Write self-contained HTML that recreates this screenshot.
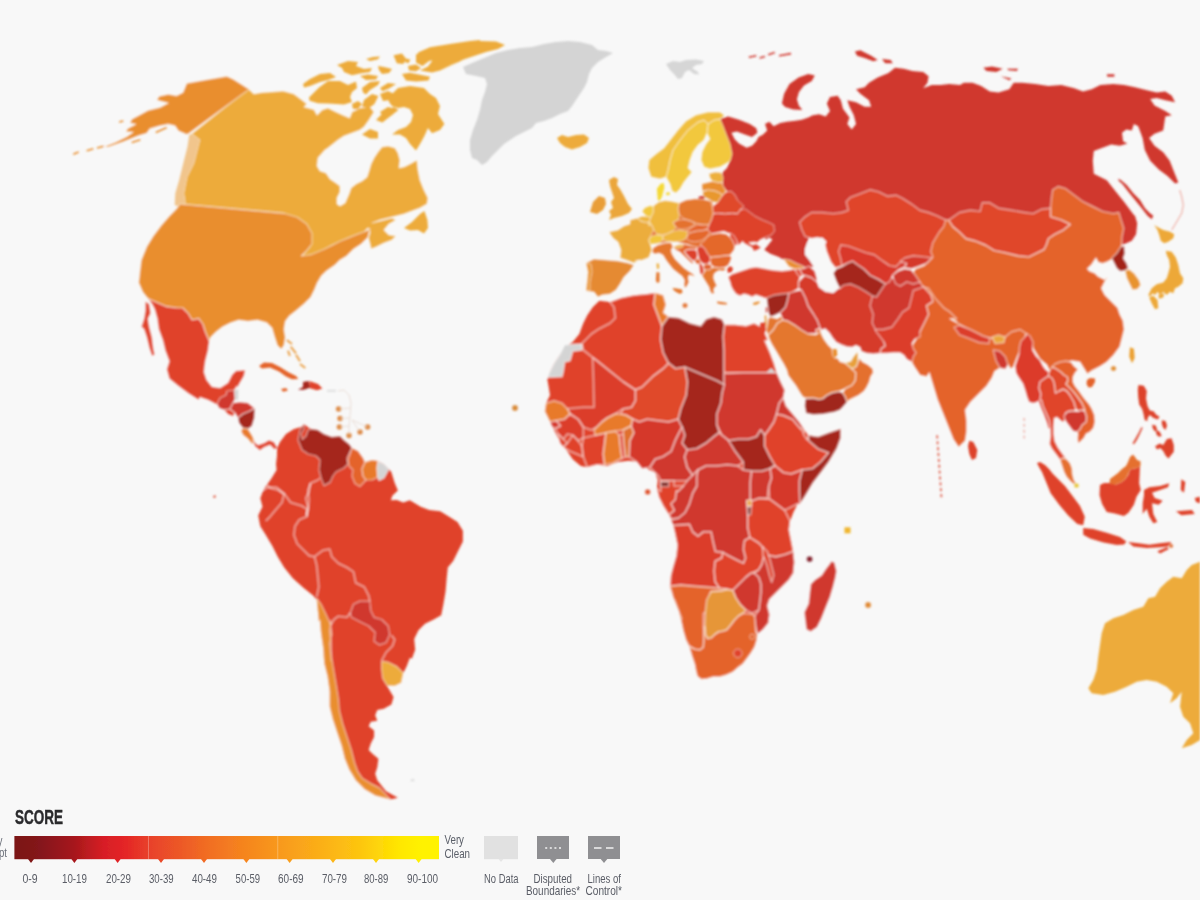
<!DOCTYPE html>
<html lang="en">
<head>
<meta charset="utf-8">
<title>Corruption Perceptions Index – World Map</title>
<style>
html,body{margin:0;padding:0;background:#f8f8f8;}
body{width:1200px;height:900px;overflow:hidden;position:relative;font-family:"Liberation Sans",sans-serif;}
#map{position:absolute;left:0;top:0;width:1200px;height:900px;display:block;}
</style>
</head>
<body>
<svg id="map" width="1200" height="900" viewBox="0 0 1200 900">
<rect x="0" y="0" width="1200" height="900" fill="#f8f8f8"/>
<defs><filter id="soft" x="-2%" y="-2%" width="104%" height="104%"><feGaussianBlur stdDeviation="0.8"/></filter><filter id="soft2" x="-2%" y="-10%" width="104%" height="120%"><feGaussianBlur stdDeviation="0.45"/></filter></defs>
<g stroke-linejoin="round" filter="url(#soft)">
<polygon fill="#edab3b" stroke="#fff" stroke-opacity="0.5" stroke-width="1.20" points="246,86.4 254,94 262,92.4 272,92 283,91 294,94 302,100 307,104 304,107 314,109.6 317,115 322,110 328,108 336,112 344,115.6 349.6,118 352,112 360,108 370,107 374,112 369,120 364,127 360,130 352,133 344,136 338,140 328,148 325,150 318,158 317,166 320,171 326,173 330,179 336,183 340,186 340,192 337,198 337,204 340,206 345,203 349,194 351,188 356,184 362,181 367,177 369,171 371,164 374,158 378,152 382,147 388,146 395,148 398,153 400,160 399,168 404,167 410,164 417,160 418,170 420,180 424,190 428,198 427,204 420,208 412,211 404,214 392,217 380,220 372,223 376,222 384,220 392,218 396,220 389,224 384,230 389,235 396,236 392,240 384,243 376,247 371,249 370,244 368.4,238 370,232 368,228 364,232.4 356,235.4 348,238.4 340,242.4 332,245.6 324,250.4 316,254.4 308,257.4 300,258 305,252 310,246 311,238 308,230 304,224 298,220 290,218 280,217 284,213.3 180,204 185.3,203 183.7,193.3 187,176.7 193.7,163.3 199.7,140 191.7,133.7 248.3,88.3"/>
<polygon fill="#e98e2f" stroke="#fff" stroke-opacity="0.5" stroke-width="1.20" points="249.2,89.2 233.3,79.2 226.7,76.3 206.7,79.7 186.7,83.3 183,92.5 176.7,95.8 168.3,94.2 159.2,96.3 156.7,100 168.3,103 160,107.5 148.3,110.3 138.3,115.8 131.7,119.2 130,123 135.8,124.2 127.5,128.7 125.8,131.7 133.3,132 126.7,136.7 115,142.5 104.2,146.7 108.3,147 123.3,141.7 138.3,135.8 146.7,133.3 150,128.7 160,125.8 168.3,124.2 175,125.8 178.3,130.8 186.7,134.5 189.2,133.3"/>
<polyline fill="none" stroke="#e98e2f" stroke-width="1.6" points="73.3,154.2 78.7,152"/>
<polyline fill="none" stroke="#e98e2f" stroke-width="1.6" points="86.7,150.8 93.3,148.7"/>
<polyline fill="none" stroke="#e98e2f" stroke-width="1.6" points="97,148 103.7,146.2"/>
<polyline fill="none" stroke="#e98e2f" stroke-width="1.6" points="131.7,142.5 140.3,139.7"/>
<polyline fill="none" stroke="#e98e2f" stroke-width="1.6" points="155.8,132.5 166.7,127.5"/>
<polyline fill="none" stroke="#e98e2f" stroke-width="1.6" points="119.2,122 123.3,121"/>
<polygon fill="#f1c58c" points="189.2,135 191.7,133.7 199.7,140 193.7,163.3 187,176.7 183.7,193.3 185.3,203 177.5,206.3 174.7,205 175.3,193.3 179.2,180 183.3,163.3 187.5,146.7"/>
<polygon fill="#e98e2f" stroke="#fff" stroke-opacity="0.5" stroke-width="1.20" points="180,204 284,213.3 297.3,217.3 306.7,224 312,233.3 312,244 306.7,250.7 301.3,256 310.7,254.7 324,249.3 340,241.3 356,234.7 366.7,230.7 369.9,228.5 368,237.3 361.3,244 353.3,249.3 346.7,256 340,260 334.7,265.3 326.7,270.7 321.3,276 317.3,282.7 314.7,289.3 310.7,297.3 304,304 296,310.7 289.3,316 285.3,321.3 284,329.3 285.3,337.3 284,345.3 281.3,349.3 277.3,345.3 274.7,337.3 272,328 266.7,322.7 257.3,320 248,321.3 238.7,320 230.7,322.7 222.7,326.7 216,332 210.7,337.3 209.3,341.3 205.3,332 202.7,324 198.7,318.7 192,320 188,313.3 182.7,308 177.3,308 166.7,306.7 157.3,302.7 148,298.7 142.7,292 138.7,282.7 140,270.7 141.3,260 146.7,246.7 153.3,236 161.3,225.3 169.3,216 176,209.3"/>
<polygon fill="#e0432b" stroke="#fff" stroke-opacity="0.5" stroke-width="1.20" points="148,298.7 157.3,302.7 166.7,306.7 177.3,308 182.7,308 188,313.3 192,320 198.7,318.7 202.7,324 205.3,332 209.3,341.3 208,350.7 205.3,361.3 204,372 206.7,380 212,386.7 220,388 228,382.7 232,374.7 236,370.7 245.3,369.9 244,376 240,382.7 237.3,388 237,386 234.4,390 232,400 224,406.4 217,404.8 208,400 200,397.2 198.7,400 188,393.3 177.3,385.3 169.3,378.7 166.7,369.3 169.3,361.3 165.3,350.7 162.7,340 158.7,329.3 157.3,318.7 154.7,309.3 152,304"/>
<polygon fill="#e0432b" stroke="#fff" stroke-opacity="0.5" stroke-width="1.20" points="145.3,301.3 149.3,304 150.7,313.3 148,318.7 149.3,326.7 152,337.3 153.3,348 154.7,354.7 152,356 149.3,348 146.7,337.3 144,329.3 141.3,326.7 144,318.7 145.3,310.7"/>
<polygon fill="#edab3b" points="303,84 310,79 320,74 330,73 336,77 328,80 320,82 310,86 304,87.4"/>
<polygon fill="#edab3b" points="309,97.6 319,87.6 328,81 340,81 348,85 356,81.6 357,88 352,92 350,97 352,102 344,104.4 328,103.6 318,103.2 309.6,100.8"/>
<polygon fill="#edab3b" points="337,65 348,61 358,62 356,66 364,69 372,68 370,72 360,73.4 352,75.2 344,72 342,68"/>
<polygon fill="#edab3b" points="366,59 373,57 380,56.4 378,59.2 370,61"/>
<polygon fill="#edab3b" points="362,88 370,82 380,81 378,85 370,90 366,94.4 363,92.4"/>
<polygon fill="#edab3b" points="380,88 388,83 396,84 389,88.4 382.4,91.2"/>
<polygon fill="#edab3b" points="364,100 372,94 378.4,96 374.4,104 368.4,108.4 362,106.4"/>
<polygon fill="#edab3b" points="378,66 384,67 392,69 389,73 382,74 379,70"/>
<polygon fill="#edab3b" points="402,74 410,72.8 420,74.8 430,76.8 428.4,80.4 416,81.4 406,80.4"/>
<polygon fill="#edab3b" points="394,56 400,54.8 402.4,60 398,62.4"/>
<polygon fill="#edab3b" points="405.6,58.6 410.4,59.6 408.4,63.2 405.2,62"/>
<polygon fill="#edab3b" points="418,52.4 430,47.2 450,44 470,41 480,40 480,41 496,41.6 505,45 498,49 486,52 474,56 462,60 450,66 440,71 466,58.4 452,64.4 440,70.4 432,72.4 420,70.4 428,66.4 432.4,60.4 420,61.2"/>
<polygon fill="#edab3b" points="388,98 398,88 410,86 424,88 430,94 436,98 440,106 438,114 444.4,124 440,130 432,133.2 428,128 424.4,136 420,144 416,150.4 410,144 406,138 400,134.4 392,134.4 398,130 406,127 411,122 413,115 410,109 404,107 398,108 392,106 389,102"/>
<polygon fill="#edab3b" points="376,120 384,112 394,107 398.4,110 390,116.4 382.4,122.4"/>
<polygon fill="#edab3b" points="362,134.4 370,129 378,132 378,138.4 370,138.4"/>
<polygon fill="#edab3b" points="380,112 388,107 396,109 392,115 384,118"/>
<polygon fill="#edab3b" points="404,228 412,222 420,214 424.4,211 427.4,220 428,228 424,233.4 418,230 410,230.4"/>
<polygon fill="#d4d4d4" points="463,67 472,63 484,58 496,53 508,50 520,48 532,47 544,44 556,42 568,41 580,42 592,45 598,50 606,51 613,53 606,57 598,62 592,68 589,74 587,82 584,88 580,94 576,100 572,106 568,111 560,114 552,118 544,121 536,123 532,128 524,132 516,136 510,140 504,144 498,150 492,156 487,162 482,165 477,160 472,158 470,150 470,140 473,130 477,120 480,110 482,100 485,92 487,84 485,78 476,76 466,74"/>
<polygon fill="#edab3b" points="557,138 562,135 568,137 576,135 584,134.4 589,138 587,143 580,147 572,149.6 565,147 560,143"/>
<polygon fill="#edab3b" points="360,76 368,74.4 378,76 376,79.6 366,80"/>
<polygon fill="#edab3b" points="380,94 388,91 394,94 390,100 383,101"/>
<polygon fill="#edab3b" points="352,104 358,101 362,104 358,109 353,109"/>
<polygon fill="#edab3b" points="416,54.4 424,50.4 432.4,52.4 430.4,60 422.4,66 416,62.4"/>
<polygon fill="#edab3b" points="393.6,55.2 402,53.6 406.4,59.2 403.2,64 396.8,63.2"/>
<polygon fill="#edab3b" points="408,66 416,64.4 421,68 416,71.2 409,70.4"/>
<polygon fill="#d4d4d4" points="234.4,390 238.4,389.6 238,400 235,399.4"/>
<polygon fill="#d0372d" stroke="#fff" stroke-opacity="0.5" stroke-width="1.20" points="217,404 220,398 226,395 227,391 234.4,390 235,399 233,403 230,409 224,410 219,408"/>
<polygon fill="#e0432b" stroke="#fff" stroke-opacity="0.5" stroke-width="1.20" points="224,410 230,409 235,413 233,416.4 228,414.6"/>
<polygon fill="#d0372d" stroke="#fff" stroke-opacity="0.5" stroke-width="1.20" points="233,403 240,402 248,403 254.4,408 250,411 243,414 238,418 235,413 230,409"/>
<polygon fill="#a5281e" stroke="#fff" stroke-opacity="0.5" stroke-width="1.20" points="238,418 243,414 250,411 255,408 254.4,418 252,426 248,429 243,428 239,423"/>
<polygon fill="#e87a2c" stroke="#fff" stroke-opacity="0.5" stroke-width="1.20" points="243,428 248,429 252.4,436 255,442 252,444 248,439 243,435 241,431"/>
<polygon fill="#e0432b" stroke="#fff" stroke-opacity="0.5" stroke-width="1.20" points="252.4,440 258,445 264,443 269,440 274,442 277.6,448 274.4,449.4 270,445 264,447.4 260,450.4 255,446.4"/>
<polygon fill="#e4642b" points="259,366 264,362.4 272,363 280,367 288,372 296,376 298.4,379 292,379.2 286,376.4 279,371.4 270,367.4 262,368.4"/>
<polygon fill="#a5281e" points="303,382 308.4,381 310.4,387.4 304,389.8 298,389.8 303,387"/>
<polygon fill="#e0432b" points="309.2,381 318,384 322.4,388.4 317,390.2 310,388.2"/>
<polygon fill="#e4642b" points="281,389 286,388 288,390.4 283,391.8"/>
<polygon fill="#d4d4d4" fill-opacity="0.7" points="327,389.8 336,389.8 336,391.8 327,391.8"/>
<circle cx="338.6" cy="409" r="3" fill="#dc8433" stroke="#fff" stroke-opacity="0.6" stroke-width="0.8"/>
<circle cx="340" cy="418.4" r="3" fill="#dc8433" stroke="#fff" stroke-opacity="0.6" stroke-width="0.8"/>
<circle cx="339.4" cy="427" r="3" fill="#dc8433" stroke="#fff" stroke-opacity="0.6" stroke-width="0.8"/>
<circle cx="349" cy="435.6" r="3" fill="#dc8433" stroke="#fff" stroke-opacity="0.6" stroke-width="0.8"/>
<circle cx="360" cy="432" r="3" fill="#dc8433" stroke="#fff" stroke-opacity="0.6" stroke-width="0.8"/>
<circle cx="367.6" cy="427" r="3" fill="#dc8433" stroke="#fff" stroke-opacity="0.6" stroke-width="0.8"/>
<polyline fill="none" stroke="#e6d6cc" stroke-width="0.8" points="338,391 344,390 349,395 351,403 350.4,412 349.6,420 349,428 349,435.6"/>
<polyline fill="none" stroke="#e6d6cc" stroke-width="0.8" points="338.6,409 350.4,408"/>
<polyline fill="none" stroke="#e6d6cc" stroke-width="0.8" points="340,418.4 350,418"/>
<polyline fill="none" stroke="#e6d6cc" stroke-width="0.8" points="339.4,427 349,426"/>
<polyline fill="none" stroke="#e6d6cc" stroke-width="0.8" points="352,420 360,432"/>
<polyline fill="none" stroke="#e6d6cc" stroke-width="0.8" points="352,420 367.6,427"/>
<polyline fill="none" stroke="#eba24a" stroke-width="2.0" points="286.7,340 292,344"/>
<polyline fill="none" stroke="#eba24a" stroke-width="2.0" points="290.7,346.7 296,353.3"/>
<polyline fill="none" stroke="#eba24a" stroke-width="2.0" points="296,354.7 300,361.3"/>
<polyline fill="none" stroke="#eba24a" stroke-width="2.0" points="300,364 305.3,368"/>
<polyline fill="none" stroke="#eba24a" stroke-width="2.0" points="288,350.7 289.9,356"/>
<polygon fill="#e0432b" points="277,448 280,442 286,434 294,429 301,427 304,424 309,428 312,429 318,430 324,434 332,437 340,436 344,440 349,444 352,448 358,451 363,458 365,462 372,460 378,461 384,464 389,469 391.4,472.2 394.7,483 397.9,490.6 392.5,495.6 390.8,500.3 396.8,499.9 403.3,502.5 409.8,500.3 420.7,506.8 429.3,510.1 440.2,511.2 448.8,516.6 457.5,522 462.9,530.7 462.9,541.5 457.5,552.3 453.2,561 447.8,567.5 446.7,578.3 445.6,591.3 443.4,604.3 441.2,615.2 433.7,619.5 425,623.8 418.5,630.3 414.2,639 415.2,649.8 412,658.5 409.8,657.9 406.6,666.6 403.3,673.1 401.2,682.8 394.7,686.1 387.1,686.1 390.3,691.5 393.6,696.9 391.4,704.5 383.8,708.8 377.3,709.9 375.2,715.3 377.3,720.8 370.8,721.8 368.7,726.2 374.1,730.5 374.1,737 370.8,743.5 368.7,750 373,754.3 378.4,758.7 377.3,767.3 375.2,773.8 377.3,780.3 386,791.2 397.9,797.7 390.3,799.4 375.2,795.5 364.3,789 355.7,780.3 349.2,769.5 344.8,758.7 341.6,745.7 337.2,732.7 332.9,719.7 329.7,706.7 329.7,691.5 327.5,676.3 324.2,663.3 323.2,648.2 321,633 319.9,620 318.8,621.7 317.8,610.8 316.7,600 313.4,595.7 303.7,588.1 292.8,578.3 284.2,567.5 277.7,556.7 272.2,545.8 265.8,535 260.3,526.3 258.2,515.5 262.5,506.8 260.3,498.2 263.6,489.5 271.2,478.7 276.6,470 276,464 277,456"/>
<polygon fill="#a5281e" stroke="#fff" stroke-opacity="0.5" stroke-width="1.20" points="304,424 300,430 298,440 302,450 308,454 316,456 320,460 319,470 321,478 324,485.6 330,482.4 333,476 336,472 344,468 348,464 347,458 352,448 349,444 344,440 340,436 332,437 324,434 318,430 312,429 308,430 306,436 302.4,439.4 301,434 304,429"/>
<polygon fill="#e4642b" stroke="#fff" stroke-opacity="0.5" stroke-width="1.20" points="352,448 358,451 363,458 365,462.4 362,469 363,476 366,480 360,486.4 355,483.4 352,476 353,470 349,466 348,460"/>
<polygon fill="#e87a2c" stroke="#fff" stroke-opacity="0.5" stroke-width="1.20" points="365,462.4 372,460 378,461 377,468 378,477 372,480 366,480 363,476 362,469"/>
<polygon fill="#d4d4d4" stroke="#fff" stroke-opacity="0.5" stroke-width="1.20" points="378,461.4 384,464 389,469 384,478 379,480.4 377.6,477 377,468"/>
<polygon fill="#d0372d" stroke="#fff" stroke-opacity="0.5" stroke-width="1.20" points="353.5,604.3 360,601.1 369.8,601.1 370.8,610.8 374.1,617.3 381.7,619.5 388.2,626 389.7,634.7 386,642.7 379.5,644.9 374.1,641.2 375.2,632.5 368.7,626 360,621.7 351.3,617.3 350.2,613"/>
<polygon fill="#e98e2f" stroke="#fff" stroke-opacity="0.5" stroke-width="1.20" points="316.7,598.3 321,604.3 325.3,613 330.8,624.9 331.8,634.7 329.7,643.3 330.8,654.2 331.4,660.7 330.8,620 329.7,630.8 330.8,643.8 331.8,659 334,672 336.2,685 338.3,698 339.4,711 342.7,724 347,737 351.3,750 354.6,763 357.8,771.7 362.2,778.2 370.8,783.6 379.5,787.9 390.3,799.4 375.2,795.5 364.3,789 355.7,780.3 349.2,769.5 344.8,758.7 341.6,745.7 337.2,732.7 332.9,719.7 329.7,706.7 329.7,691.5 327.5,676.3 324.2,663.3 323.2,648.2 321,633 319.9,620 318.8,621.7 317.8,610.8 316.7,600"/>
<polygon fill="#edab3b" stroke="#fff" stroke-opacity="0.5" stroke-width="1.20" points="381.7,661.2 388.2,662.2 396.8,666.6 403.3,673.1 401.2,682.8 394.7,686.1 387.1,685.4 382.8,678.5 381.7,669.8"/>
<polyline fill="none" stroke="#fff" stroke-opacity="0.5" stroke-width="1.60" points="310.2,483 309.1,491.7 305.8,498.2 308,506.8 306.9,516.6"/>
<polyline fill="none" stroke="#fff" stroke-opacity="0.5" stroke-width="1.60" points="306.9,516.6 299.3,519.8 295,526.3 293.9,535 297.2,543.7 303.7,550.2 309.1,555.6 314.5,556.7"/>
<polyline fill="none" stroke="#fff" stroke-opacity="0.5" stroke-width="1.60" points="314.5,556.7 323.2,550.2 329.7,549.1 331.8,556.7 338.3,563.2 347,567.5 353.5,571.8 355.7,582.7 364.3,587 368.7,595.7 369.8,601.1"/>
<polyline fill="none" stroke="#fff" stroke-opacity="0.5" stroke-width="1.60" points="314.5,556.7 316.7,565.3 317.8,576.2 318.8,587 316.7,596.8"/>
<polyline fill="none" stroke="#fff" stroke-opacity="0.5" stroke-width="1.60" points="262.5,490.6 267.9,487.3 276.6,487.3 284.2,493.8 282,502.5 275.5,510.1 270.1,516.6 265.8,520.9"/>
<polyline fill="none" stroke="#fff" stroke-opacity="0.5" stroke-width="1.60" points="284.2,493.8 290.7,502.5 301.5,505.8 306.9,509 306.9,516.6"/>
<polyline fill="none" stroke="#fff" stroke-opacity="0.5" stroke-width="1.60" points="330.8,624.9 334,619.5 338.3,616.2 347,617.3 350.2,613"/>
<polyline fill="none" stroke="#fff" stroke-opacity="0.5" stroke-width="1.60" points="391.4,635.2 394.7,639.5 392.5,646 386,652.5 381.7,660.7"/>
<polyline fill="none" stroke="#fff" stroke-opacity="0.5" stroke-width="1.60" points="320,478 318,480 311,483 308,490 309,500 308,510 306,515"/>
<polyline fill="none" stroke="#fff" stroke-opacity="0.5" stroke-width="1.60" points="267,485 270,488 278,490 284,494"/>
<polygon fill="#e0432b" points="599.3,300.7 610,302 620.7,298 634,295.3 647.3,294 655.3,292.7 663.3,295.3 666,304.7 663.3,312.7 668.7,316.7 679.3,318 690,323.3 700.7,326 706,319.3 714,316.7 722,319.3 724.7,324.7 735.3,324.7 746,326 754,323.3 762,327.3 764.7,332.7 767.9,339.9 764.7,340.7 770,352.7 774,363.3 776.7,372.7 780.7,382 784.7,390 783.3,398 786,406 792.7,414 799.3,422 804.7,430 808.7,435.3 818,436.7 828.7,432.7 840.7,428.7 840.7,438 836.7,448.7 828.7,462 820.7,472.7 812.7,483.3 804.7,496.7 799.3,504.7 797.7,503.8 793.3,512.5 790.1,521.2 789,529.8 791.2,540.7 793.3,551.5 794.4,562.3 793.3,573.2 789,579.7 782.5,586.2 776,592.7 769.5,599.2 767.3,605.7 769.5,614.3 768.4,623 763,629.5 757.6,633.8 758.7,630.7 756,632 757.3,634.7 756.7,640 754.7,646.7 750.7,653.3 746.7,658.7 742.7,664 737.3,668 732.7,672 726.7,674.7 720,676.7 713.3,676.7 706.7,678.7 701.3,679.3 697.3,676 696,670.7 694.7,664 692,656 689.3,646.7 686,640 683.3,630.7 681.3,621.3 678.7,610.7 674.7,600 681.8,618.7 677.4,607.8 673.1,597 669.8,586.2 670.9,575.3 673.1,566.7 676.3,555.8 677.4,545 675.2,534.2 673.1,523.3 668.8,514.7 663.3,506 659,497.3 656.8,488.7 657.9,480 663.3,502 660.7,491.3 658,480.7 655.3,472.7 647.3,468.7 639.3,462 628.7,460.7 618,462 607.3,466 596.7,464.7 587.3,467.3 580.7,466 572.7,459.3 567.3,451.3 560.7,443.3 556.7,435.3 552.7,427.3 548.7,419.3 544.7,411.3 546,403.3 550,395.3 548.7,387.3 547.3,379.3 550,371.3 554,363.3 559.3,355.3 564.7,347.3 572.7,342 579.3,334 583.3,323.3 587.3,315.3 592.7,307.3"/>
<polygon fill="#d4d4d4" stroke="#fff" stroke-opacity="0.5" stroke-width="1.60" points="564.7,344.7 582,344.1 582,350 572.7,351.3 570,360.7 564.7,362 563.3,371.3 562,376.7 547.3,377.2 550,371.3 554,363.3 559.3,355.3"/>
<polygon fill="#e0432b" stroke="#fff" stroke-opacity="0.5" stroke-width="1.60" points="610,302 620.7,298 634,295.3 647.3,294 655.3,292.7 654,304.7 658,315.3 662,326 660.7,339.3 663.3,352.7 668.7,363.3 663.3,368.7 652.7,376.7 642,387.3 635.3,390 623.3,382 610,371.3 596.7,360.7 583.3,350 582,343.3 584.7,340.7 591.3,334 599.3,328.7 610,323.3 615.3,318 614,307.3"/>
<polygon fill="#e87a2c" stroke="#fff" stroke-opacity="0.5" stroke-width="1.60" points="655.3,292.7 663.3,295.3 666,304.7 663.3,312.7 668.7,316.7 664.7,322 662,326 658,315.3 654,304.7"/>
<polygon fill="#a5281e" stroke="#fff" stroke-opacity="0.5" stroke-width="1.60" points="668.7,316.7 679.3,318 690,323.3 700.7,326 706,319.3 714,316.7 722,319.3 724.7,324.7 723.3,336.7 724.1,350 724.1,371.3 724.1,384.7 716.7,380.7 700.7,374 684.7,367.3 675.3,368.7 668.7,363.3 663.3,352.7 660.7,339.3 662,326 664.7,322"/>
<polygon fill="#e0432b" stroke="#fff" stroke-opacity="0.5" stroke-width="1.60" points="724.7,324.7 735.3,324.7 746,326 754,323.3 762,327.3 764.7,332.7 767.9,339.9 764.7,340.7 770,352.7 774,363.3 776.7,372.7 764.7,372.7 743.3,372.7 726,372.7 724.1,371.3 724.1,350 723.3,336.7"/>
<polygon fill="#d4d4d4" points="766,372.7 771.3,368.1 776.7,374"/>
<polygon fill="#d0372d" stroke="#fff" stroke-opacity="0.5" stroke-width="1.60" points="726,373.5 743.3,372.7 764.7,372.7 776.7,372.7 780.7,382 784.7,390 783.3,398 779.3,403.3 776.7,414 774,422 768.7,430 764.7,435.3 760.7,430 756.7,436.7 748.7,439.3 738,439.3 728.7,440.7 722,435.3 716.7,424.7 716.7,414 720.7,403.3 722,392.7 724.1,384.7 724.1,373.5"/>
<polygon fill="#a5281e" stroke="#fff" stroke-opacity="0.5" stroke-width="1.60" points="684.7,367.3 700.7,374 716.7,380.7 724.1,384.7 722,392.7 720.7,403.3 716.7,414 716.7,424.7 719.3,432.7 714,436.7 706,443.3 696.7,448.7 687.3,450 682,443.3 684.7,435.3 682,427.3 678,419.3 680.7,408.7 686,395.3 687.3,382"/>
<polygon fill="#e0482b" stroke="#fff" stroke-opacity="0.5" stroke-width="1.60" points="635.3,390 642,387.3 652.7,376.7 663.3,368.7 668.7,363.3 675.3,368.7 684.7,367.3 687.3,382 686,395.3 680.7,408.7 678,419.3 668.7,422 658,420.7 647.3,419.3 639.3,422 632.7,419.3 626,415.3 620.7,414 623.3,408.7 631.3,407.3 635.3,400.7"/>
<polygon fill="#dc3e2a" stroke="#fff" stroke-opacity="0.5" stroke-width="1.60" points="592.7,358 596.7,360.7 610,371.3 623.3,382 635.3,390 635.3,400.7 631.3,407.3 623.3,408.7 615.3,414 607.3,418 602,422 596.7,427.3 591.3,430 583.3,427.3 578,419.3 570,414 567.3,408.7 583.3,407.3 594,407.3 593.5,382"/>
<polygon fill="#e87a2c" stroke="#fff" stroke-opacity="0.5" stroke-width="1.60" points="546,403.3 554,400.7 562,403.3 567.3,408.7 570,414 564.7,419.3 556.7,420.7 550,422 544.7,411.3"/>
<polygon fill="#d5372b" stroke="#fff" stroke-opacity="0.5" stroke-width="1.60" points="550,422 556.7,420.7 560.7,426 555.3,428.7 551.9,426.8"/>
<polygon fill="#dc3e2a" stroke="#fff" stroke-opacity="0.5" stroke-width="1.60" points="556.7,420.7 564.7,419.3 570,414 578,419.3 583.3,427.3 583.3,438 578,440.7 572.7,435.3 567.3,434 563.3,439.3 558,434 555.3,428.7 560.7,426"/>
<polygon fill="#e0432b" stroke="#fff" stroke-opacity="0.5" stroke-width="1.60" points="558,434 563.3,439.3 567.3,443.3 563.3,447.3 559.9,443.3"/>
<polygon fill="#e0432b" stroke="#fff" stroke-opacity="0.5" stroke-width="1.60" points="563.3,447.3 567.3,443.3 572.7,435.3 578,440.7 582,446 583.3,456.7 576.7,454 570,451.3"/>
<polygon fill="#e0432b" stroke="#fff" stroke-opacity="0.5" stroke-width="1.60" points="583.3,438 595.3,435.3 600.7,434 606,432.7 604.7,443.3 603.3,454 604.7,464.7 596.7,464.7 587.3,467.3 583.3,456.7 582,446"/>
<polygon fill="#e87a2c" stroke="#fff" stroke-opacity="0.5" stroke-width="1.60" points="596.7,427.3 602,422 607.3,418 615.3,414 620.7,414 626,415.3 632.7,419.3 631.3,426 623.3,430 615.3,431.3 607.3,432.7 600.7,434 595.3,435.3 594,430"/>
<polygon fill="#e87a2c" stroke="#fff" stroke-opacity="0.5" stroke-width="1.60" points="606,432.7 615.3,431.3 619.3,435.3 620.7,448.7 622,458 612.7,463.3 604.7,464.7 603.3,454 604.7,443.3"/>
<polygon fill="#e0432b" stroke="#fff" stroke-opacity="0.5" stroke-width="1.60" points="619.3,435.3 623.3,434 625.5,456.7 622,458 620.7,448.7"/>
<polygon fill="#e0702d" stroke="#fff" stroke-opacity="0.5" stroke-width="1.60" points="623.3,430 631.3,426 634,432.7 630,440.7 629.2,456.7 625.5,456.7 623.9,443.3 623.3,434"/>
<polygon fill="#d5372b" stroke="#fff" stroke-opacity="0.5" stroke-width="1.60" points="632.7,419.3 639.3,422 647.3,419.3 658,420.7 668.7,422 678,419.3 682,427.3 679.3,432.7 675.3,440.7 671.3,451.3 663.3,456.7 655.3,459.3 650,467.3 642,468.7 636.7,462 629.2,456.7 630,440.7 634,432.7 631.3,426"/>
<polygon fill="#d0372d" stroke="#fff" stroke-opacity="0.5" stroke-width="1.60" points="682,427.3 684.7,435.3 682,443.3 687.3,450 684.7,456.7 687.3,467.3 692.7,475.3 687.3,480.7 674,480.7 660.7,480.7 658,475.3 655.3,472.7 650,467.3 655.3,459.3 663.3,456.7 671.3,451.3 675.3,440.7 679.3,432.7"/>
<polygon fill="#d0372d" stroke="#fff" stroke-opacity="0.5" stroke-width="1.60" points="687.3,450 696.7,448.7 706,443.3 714,436.7 719.3,432.7 722,435.3 728.7,440.7 735.3,451.3 743.3,462 738,466 727.3,464.7 716.7,466 706,466 698,470 692.7,475.3 687.3,467.3 684.7,456.7"/>
<polygon fill="#a5281e" stroke="#fff" stroke-opacity="0.5" stroke-width="1.60" points="728.7,440.7 738,439.3 748.7,439.3 756.7,436.7 760.7,430 764.7,435.3 764.7,446 770,456.7 775.3,464.7 770,468.7 762,471.3 751.3,471.3 743.3,470 743.3,462 735.3,451.3"/>
<polygon fill="#e0432b" stroke="#fff" stroke-opacity="0.5" stroke-width="1.60" points="768.7,430 774,422 776.7,414 783.3,415.3 792.7,419.3 799.3,427.3 804.7,434 808.7,440.7 818,448.7 828.7,452.7 820.7,462 812.7,468.7 802,470 791.3,474 783.3,472.7 775.3,466 770,456.7 764.7,446 764.7,435.3"/>
<polygon fill="#d0372d" stroke="#fff" stroke-opacity="0.5" stroke-width="1.60" points="776.7,414 779.3,403.3 783.3,398 786,406 792.7,414 799.3,422 804.7,430 799.3,427.3 792.7,419.3 783.3,415.3"/>
<polygon fill="#e0432b" stroke="#fff" stroke-opacity="0.5" stroke-width="1.60" points="804.7,430 808.7,435.3 806.8,439.6 803.3,434"/>
<polygon fill="#a5281e" stroke="#fff" stroke-opacity="0.5" stroke-width="1.60" points="808.7,440.7 808.7,435.3 818,436.7 828.7,432.7 840.7,428.7 840.7,438 836.7,448.7 828.7,462 820.7,472.7 812.7,483.3 804.7,496.7 799.9,504.1 799.3,491.3 799.3,480.7 802,470 812.7,468.7 820.7,462 828.7,452.7 818,448.7"/>
<polygon fill="#d5372b" stroke="#fff" stroke-opacity="0.5" stroke-width="1.60" points="770,468.7 775.3,466 783.3,472.7 791.3,474 802,470 799.3,480.7 799.3,491.3 799.9,504.1 797.7,503.8 784.7,510.3 776,503.8 769.5,499.1 768.7,486 771.3,478"/>
<polygon fill="#d0372d" stroke="#fff" stroke-opacity="0.5" stroke-width="1.60" points="751.3,471.3 762,471.3 770,468.7 771.3,478 768.7,486 767.3,498.4 758.7,498.4 750,501.7 750,483.3"/>
<polygon fill="#d0372d" stroke="#fff" stroke-opacity="0.5" stroke-width="1.60" points="698,470 706,466 716.7,466 727.3,464.7 738,466 743.3,470 751.3,471.3 750,483.3 750,501.7 746.8,500.6 747.8,516.8 747.8,527.7 750,537.4 744.6,540.7 743.5,549.3 745.7,558 743.5,563.4 737,560.2 728.3,555.8 722.9,552.6 715.3,551.5 713.2,542.8 711,532 703.4,532 698,536.3 692.6,532 689.3,524.4 673.1,525.5 670.9,520.1 678.5,517.9 685,512.5 689.3,503.8 692.6,493 696.7,486 696.7,475.3"/>
<polygon fill="#d0372d" stroke="#fff" stroke-opacity="0.5" stroke-width="1.60" points="687.3,480.7 692.7,475.3 698,470 696.7,475.3 696.7,486 692.6,493 689.3,503.8 685,512.5 678.5,517.9 672,519 668.8,514.7 674.2,510.3 670.9,503.8 675.2,499.5 676.3,490.8 678,491.3 683.3,486"/>
<polygon fill="#e0432b" stroke="#fff" stroke-opacity="0.5" stroke-width="1.60" points="660.7,480.7 674,480.7 674,486 683.3,486 678,491.3 676.3,490.8 675.2,499.5 670.9,503.8 674.2,510.3 668.8,514.7 663.3,506 659,497.3 656.8,488.7 660.7,491.3"/>
<polygon fill="#7a1a16" stroke="#fff" stroke-opacity="0.5" stroke-width="1.60" points="660.7,482 668.7,482 668.7,486.5 660.7,486.5"/>
<polygon fill="#dc3e2a" stroke="#fff" stroke-opacity="0.5" stroke-width="1.60" points="673.1,525.5 689.3,524.4 692.6,532 698,536.3 703.4,532 711,532 713.2,542.8 715.3,551.5 722.9,552.6 721.8,558 715.3,561.2 714.2,571 715.3,581.8 719.7,588.3 706.7,587.2 693.7,586.2 680.7,585.1 670.3,586.2 670.9,575.3 673.1,566.7 676.3,555.8 677.4,545 675.2,534.2"/>
<polygon fill="#e0432b" stroke="#fff" stroke-opacity="0.5" stroke-width="1.60" points="715.3,561.2 721.8,558 722.9,552.6 728.3,555.8 737,560.2 743.5,563.4 745.7,558 743.5,549.3 744.6,540.7 750,537.4 758.7,542.8 763,547.2 764.1,555.8 761.9,564.5 758.7,569.9 751.1,573.2 745.7,577.5 739.2,584 732.7,590.5 727.2,589.4 719.7,588.3 715.3,581.8 714.2,571"/>
<polygon fill="#e0432b" stroke="#fff" stroke-opacity="0.5" stroke-width="1.60" points="750,501.7 758.7,498.4 769.5,499.1 776,503.8 784.7,510.3 790.1,521.2 789,529.8 791.2,540.7 793.3,551.5 784.7,554.8 776,556.9 769.5,555.8 764.1,551.5 763,547.2 758.7,542.8 750,537.4 747.8,527.7 747.8,516.8"/>
<polygon fill="#e8a03a" stroke="#fff" stroke-opacity="0.5" stroke-width="1.60" points="746.8,500.6 751.3,499.5 751.7,505.6 747.4,506.4"/>
<polygon fill="#7a1a16" stroke="#fff" stroke-opacity="0.5" stroke-width="1.60" points="747.4,507.1 751.3,506.6 750.6,514.7 747.8,514.7"/>
<polygon fill="#d0372d" stroke="#fff" stroke-opacity="0.5" stroke-width="1.60" points="769.5,555.8 776,556.9 784.7,554.8 793.3,551.5 794.4,562.3 793.3,573.2 789,579.7 782.5,586.2 776,592.7 769.5,599.2 767.3,605.7 769.5,614.3 768.4,623 763,629.5 757.6,634.3 755.4,625.2 754.3,616.5 758.7,610 759.8,601.3 760.8,592.7 760.8,584 758.7,577.5 754.3,573.2 758.7,569.9 761.9,564.5 764.1,555.8"/>
<polygon fill="#e0432b" stroke="#fff" stroke-opacity="0.5" stroke-width="1.60" points="763,547.2 767.3,551.5 769.5,558 771.7,566.7 773.8,575.3 771.7,582.3 769.5,575.3 767.3,566.7 765.2,560.2 763,555.8"/>
<polygon fill="#d0372d" stroke="#fff" stroke-opacity="0.5" stroke-width="1.60" points="732.7,590.5 739.2,584 745.7,577.5 751.1,573.2 754.3,573.2 758.7,577.5 760.8,584 760.8,592.7 759.8,601.3 758.7,610 752.2,613.2 745.7,610 740.2,604.6 735.9,598.1"/>
<polygon fill="#e4642b" stroke="#fff" stroke-opacity="0.5" stroke-width="1.60" points="670.3,586.2 680.7,585.1 693.7,586.2 706.7,587.2 719.7,588.3 727.2,589.4 721.8,590.9 711,591.6 708.8,601.3 707.8,612.2 703.4,613.2 703.4,627.3 704,632 704,640 703.3,647.3 700,650 694.7,649.3 689.3,646 686,640 683.3,630.7 681.3,621.3 678.7,610.7 674.7,600 681.8,618.7 677.4,607.8 673.1,597"/>
<polygon fill="#e69638" stroke="#fff" stroke-opacity="0.5" stroke-width="1.60" points="705.3,612.7 706.7,600 711,591.6 721.8,590.9 727.2,589.4 732.7,590.5 735.9,598.1 740.2,604.6 745.7,610 743.3,613.3 738.7,616 734.7,620 730.7,625.3 726.7,630 722.7,631.3 718.7,632 714.7,634.7 711.3,638 707.3,638.7 705.3,634.7 704.7,626.7"/>
<polygon fill="#e4642b" stroke="#fff" stroke-opacity="0.5" stroke-width="1.60" points="704,632 704.7,626.7 705.3,634.7 707.3,638.7 711.3,638 714.7,634.7 718.7,632 722.7,631.3 726.7,630 730.7,625.3 734.7,620 738.7,616 743.3,613.3 752,614 754.7,616 755.3,622.7 755.7,631.3 757.3,634.7 756.7,640 754.7,646.7 750.7,653.3 746.7,658.7 742.7,664 737.3,668 732.7,672 726.7,674.7 720,676.7 713.3,676.7 706.7,678.7 701.3,679.3 697.3,676 696,670.7 694.7,664 692,656 689.3,646.7 694.7,649.3 700,650 703.3,647.3 704,640"/>
<circle cx="737.8" cy="653.3" r="4.2" fill="#e0432b" stroke="#fff" stroke-opacity="0.6" stroke-width="0.8"/>
<circle cx="752.3" cy="636.7" r="2.6" fill="#e4642b" stroke="#fff" stroke-opacity="0.6" stroke-width="0.8"/>
<polygon fill="#d0372d" stroke="#fff" stroke-opacity="0.5" stroke-width="1.60" points="831.2,561.2 834.5,562.3 836.7,571 835.6,577.5 833.4,586.2 830.2,597 825.8,607.8 821.5,618.7 817.2,627.3 810.7,631.7 806.3,629.5 805.2,620.8 804.2,612.2 808.5,603.5 809.6,592.7 810.7,584 815,579.7 821.5,575.3 825.8,568.8 829.1,564.5"/>
<circle cx="809.6" cy="559.1" r="3.2" fill="#8a1c2c" stroke="#fff" stroke-opacity="0.6" stroke-width="0.8"/>
<circle cx="647.7" cy="491.9" r="3" fill="#e0552b" stroke="#fff" stroke-opacity="0.6" stroke-width="0.8"/>
<circle cx="868.1" cy="605" r="3.2" fill="#e08a2f" stroke="#fff" stroke-opacity="0.6" stroke-width="0.8"/>
<polygon fill="#f0b62e" points="844.5,527.3 850.5,527.3 850.5,533.3 844.5,533.3"/>
<circle cx="515" cy="408" r="3.2" fill="#d88a33" stroke="#fff" stroke-opacity="0.6" stroke-width="0.8"/>
<polygon fill="#d0372d" points="721.7,118.6 728.2,116.4 739,119.7 749.8,124 756.3,128.3 757.4,132.7 752,137 745.5,134.8 736.8,131.6 731.4,132.7 734.7,139.2 739,143.5 746.6,147.8 752,145.7 756.3,141.3 758.5,137 762.8,134.8 767.2,130.5 765,124 769.3,121.8 773.7,126.2 780.2,122.9 786.7,121.8 795.3,120.8 801.8,119.7 808.3,117.5 812.7,115.3 819.2,114.3 825.7,116.4 830,111 826.8,103.4 830,96.9 837.6,95.8 840.8,100.2 843,108.8 849.5,117.5 847.3,124 851.7,129.4 856,124 853.8,115.3 849.5,106.7 847.3,100.2 856,102.3 864.7,106.7 871.2,106.7 869,100.2 860.3,93.7 856,89.3 864.7,87.2 869,82.8 877.7,77.4 888.5,73.1 895,67.7 903.7,68.8 912.3,70.9 923.2,72 928.6,76.3 927.5,82.8 923.2,88.2 931.8,85 940.5,85 949.2,83.9 960,85 963.8,82.8 972.5,82.8 981.2,86.1 989.8,91.5 998.5,92.6 1009.3,89.3 1013.7,82.8 1022.3,82.8 1035.3,83.9 1048.3,86.1 1061.3,85 1074.3,88.2 1083,91.5 1091.7,89.3 1100.3,85 1113.3,83.9 1124.2,85 1135,87.2 1148,90.4 1156.7,92.6 1165.3,91.5 1171.8,95.8 1175.1,102.3 1165.3,100.2 1156.7,98 1150.2,99.1 1154.5,105.6 1165.3,111 1171.8,115.3 1165.3,116.4 1164.2,124 1163.2,130.5 1154.5,133.8 1149.1,138.1 1154.5,145.7 1163.2,152.2 1169.7,160.8 1174,171.7 1178.3,182.5 1175.1,183.6 1167.5,176 1158.8,169.5 1150.2,160.8 1144.8,150 1142.6,138.1 1138.2,126.2 1133.9,124 1131.8,130.5 1126.3,129.4 1122,132.7 1123.1,141.3 1127.4,143.5 1119.8,145.7 1111.2,144.6 1102.5,147.8 1093.8,151.1 1092.8,160.8 1093.8,173.8 1100.3,177.1 1106.8,180.3 1115.5,191.2 1124.2,202 1130.7,210.7 1133.9,215 1135,215.8 1137.2,223.3 1136.1,234.2 1131.8,240.7 1126.3,243.3 1122,245 1113.3,223.3 1091.7,214.7 1070,206 1057,197.3 1052.7,210.3 1026.7,221.2 983.3,219 948.7,227.7 945.8,229.8 913.3,214.7 870,201.7 852.7,214.7 811.5,223.3 809.3,236.3 805,249.3 808.2,255.8 811.5,262.3 813.7,267.1 809.3,266.7 803.9,267.5 796.3,264.5 789.8,261.2 783.3,259.7 779,256.9 770.3,253.7 764.3,249.8 768.2,245 772.5,239.6 769.2,237.4 766,239.6 757.3,229.8 744.3,214.7 742.5,211.2 737.5,202.5 730,195 723.1,186.2 721.9,177.5 722.5,172.5 725,170 727,168 729,163.6 730.4,160 726,140 720,120 724.4,115.6"/>
<polygon fill="#d0372d" points="781.9,103.4 784.1,93.7 789.5,83.9 798.6,77.6 808.3,74 814.8,75.5 811.8,81.1 804,85.4 799,91.9 796.9,99.3 798.8,105.4 802.3,110.1 793.2,109.5 785.1,107.1"/>
<polyline fill="none" stroke="#d0372d" stroke-width="1.6" points="748.8,57.3 756.3,55.8"/>
<polyline fill="none" stroke="#d0372d" stroke-width="1.6" points="759.6,57.9 765,56.4"/>
<polyline fill="none" stroke="#d0372d" stroke-width="1.6" points="768.2,54.7 774.8,52.5"/>
<polyline fill="none" stroke="#d0372d" stroke-width="1.6" points="779.1,55.8 791,53.6"/>
<polygon fill="#d0372d" points="854.9,51.4 860.3,50.3 871.2,55.8 877.7,60.1 873.3,61.2 864.7,57.9 857.1,55.8"/>
<polygon fill="#d0372d" points="882,59 890.7,60.1 892.8,63.3 885.2,63.3"/>
<polygon fill="#d0372d" points="983.3,67.7 992,66.6 1002.8,68.8 996.3,72 986.6,70.9"/>
<polygon fill="#d0372d" points="1007.2,68.8 1018,68.8 1016.9,70.9 1008.2,70.3"/>
<polygon fill="#d0372d" points="1000.7,76.3 1011.5,78.5 1009.3,80.2"/>
<polygon fill="#d0372d" points="1106.8,74.2 1114.4,74.2 1114.4,76.8 1107.3,76.8"/>
<polygon fill="#d0372d" points="1118,178.7 1120.8,180 1126.7,185 1133.3,193.3 1140,200 1145,208.3 1150,213.3 1153.3,215.8 1151.7,219.2 1147.5,215.8 1141.7,208.3 1135,200 1128.3,191.7 1122.5,184.2 1118.7,180.8"/>
<polygon fill="#d0372d" points="698.1,196.9 703.1,195.6 705,197.5 703.8,199.4 698.8,199.4"/>
<polygon fill="#e4702d" points="644,222 656,204 680,204 700,199 712,201 714,212 712,232 712,256 704,260 698,248 688,244 672,241 654,244 648,240"/>
<polygon fill="#de432b" stroke="#fff" stroke-opacity="0.5" stroke-width="1.00" points="711.2,220 713.1,213.8 717.5,213.1 725,213.8 732.5,213.1 737.5,213.8 740,210 745,208.8 750,212.5 755,216.2 762.5,220 768.8,222.5 773.8,225 774.4,231.2 771.2,235 765,237.5 760,240 757.5,242.5 753.8,241.9 748.8,242.8 751.9,245 756.2,243.8 761.2,247.5 757.5,250 753.8,251.2 751.9,247.5 745,243.8 742.5,241.2 738.8,245 738.1,245 736.9,241.2 733.8,236.2 730,233.8 723.8,231.2 717.5,232.5 711.2,233.8 707.5,229.4 708.8,225"/>
<polygon fill="#e04a2c" stroke="#fff" stroke-opacity="0.5" stroke-width="1.00" points="713.1,206.2 717.5,202.5 722.5,195 726.2,191.9 731.2,191.2 735,195 737.5,200 741.2,203.8 743.8,206.2 740,210 737.5,213.8 732.5,213.1 725,213.8 717.5,213.1 713.1,213.8 712.5,207.5"/>
<polygon fill="#edb03e" stroke="#fff" stroke-opacity="0.5" stroke-width="1.00" points="708.8,173.8 715,171.9 721.2,172.5 723.1,177.5 722.5,182.5 717.5,182.5 712.5,181.2 710,178.1"/>
<polygon fill="#e98e2f" stroke="#fff" stroke-opacity="0.5" stroke-width="1.00" points="701.9,183.8 707.5,182.5 712.5,181.2 717.5,182.5 722.5,182.5 722.8,185.6 726.2,191.2 722.5,195 718.8,192.5 713.8,190.6 707.5,190 702.5,191.2 701.9,187.5"/>
<polygon fill="#e8982f" stroke="#fff" stroke-opacity="0.5" stroke-width="1.00" points="702.5,191.9 707.5,190 713.8,190.6 718.8,192.5 722.5,195 721.2,196.9 717.5,202.5 713.1,201.9 710,200 705,197.5 703.1,195"/>
<polygon fill="#f2c83e" stroke="#fff" stroke-opacity="0.5" stroke-width="1.00" points="708,124 714,120 720,119 723,126 726,134 730,144 732,154 730.4,160 728,162.4 720,167 710,169 704,167 701,160 702,152 706,144 710,139 707,133"/>
<polygon fill="#f2c83e" stroke="#fff" stroke-opacity="0.5" stroke-width="1.00" points="666,177 668,170 670,160 673,150 680,140 688,130 698,122 704,120 708,124 707,133 704,140 698,145 693,152 690,160 688,168 692,172 688,177 684,182 680,189 676,193 672,191 670,184"/>
<polygon fill="#f0bf3c" stroke="#fff" stroke-opacity="0.5" stroke-width="1.00" points="651,177 648,168 649,160 656,154 664,148 671,139 678,130 686,121 696,115 708,112 720,112 724.4,115.6 720,119 714,120 708,124 704,120 698,122 688,130 680,140 673,150 670,160 668,170 666,177 660,179"/>
<polygon fill="#f5d936" points="656.9,188.8 660.6,183.8 663.8,183.1 664.4,187.5 663.1,192.5 661.9,196.9 659.4,201.2 657.8,200 657.2,193.1"/>
<polygon fill="#f5d936" points="665.6,193.1 669.4,191.9 670,194.4 666.9,195.6"/>
<polygon fill="#eba63a" points="609,180 614,177 618,179 617,185 620,189 624,196 628,204 632,209 629,213 622,216 614,218 609,220 611,215 609,211 613,208 611,202 614,198 612,192 610,186"/>
<polygon fill="#e99e38" points="590,212 593,202 599,196 605,198 606,204 603,210 597,214"/>
<polygon fill="#e58a33" stroke="#fff" stroke-opacity="0.5" stroke-width="1.00" points="586,263 594,259 606,260 618,261 628,263 634,265 630,271 624,277 620,284 616,290 610,294 602,295 598,297 594,292 586,291 587,282 588,272"/>
<polygon fill="#e9952f" stroke="#fff" stroke-opacity="0.5" stroke-width="1.00" points="586,263 591,264 592,272 590,282 590,290 586,291 587,282 588,272"/>
<polygon fill="#ecad3e" stroke="#fff" stroke-opacity="0.5" stroke-width="1.00" points="630,220 637.5,218.1 640,220.6 643.8,221.9 648.8,222.5 651.9,225 653.8,230 651.2,235 648.8,240 650.6,245 651.9,250 648.8,257.5 642.5,260 635,261.2 640,260 634,263 626,260 620,258 621,250 618,242 613,238 609,232 618,230 624,226 630,224"/>
<polygon fill="#efb63c" stroke="#fff" stroke-opacity="0.5" stroke-width="1.00" points="653.1,206.2 658.8,201.9 665,200.6 671.2,201.2 676.9,202.5 679.4,203.1 678.1,208.8 679.4,215 678.1,220 673.1,222.5 676.2,227.5 672.5,231.2 667.5,233.8 662.5,235 656.9,234.4 653.8,230 651.9,225 648.8,222.5 650.6,217.5 653.1,212.5"/>
<polygon fill="#f2c83e" stroke="#fff" stroke-opacity="0.5" stroke-width="1.00" points="641.9,211.2 645,207.5 650,205.6 653.1,206.2 653.1,212.5 650.6,217.5 646.2,216.2"/>
<polygon fill="#efb63c" stroke="#fff" stroke-opacity="0.5" stroke-width="1.00" points="637.5,218.1 641.9,216.2 646.2,216.2 650.6,217.5 648.8,222.5 643.8,221.9 640,220.6"/>
<polygon fill="#f2c83e" stroke="#fff" stroke-opacity="0.5" stroke-width="1.00" points="648.8,222.5 650.8,223.1 650,225.8 648.5,225"/>
<polygon fill="#f2c83e" stroke="#fff" stroke-opacity="0.5" stroke-width="1.00" points="648.8,240 651.2,236.2 656.9,234.8 662.5,235.6 663.1,240 658.8,243.1 653.8,243.8 650.6,244.8"/>
<polygon fill="#efb63c" stroke="#fff" stroke-opacity="0.5" stroke-width="1.00" points="663.1,235.6 667.5,233.8 673.1,231.2 679.4,230 686.9,231.2 687.5,235 685,239.4 680,241.2 673.8,241.9 667.5,241.2 663.1,240"/>
<polygon fill="#e5772d" stroke="#fff" stroke-opacity="0.5" stroke-width="1.00" points="652,252 653,248 658,245 665,243 671,242.5 673,247 671,250 672,254 675,259 680,264 684,268 689,271.5 693,274 695.2,276.7 692,275.6 689,275 688,278 689,282 687,286 685,288.2 684,285 684.5,280 682,276 678,273 673,269 669,264 666,260 663,255 659,253 655,254"/>
<polygon fill="#e5772d" points="672.5,288 677,288.5 682,289.5 682.5,292.5 680,294 676,292 673.5,290"/>
<polygon fill="#e5772d" points="656.5,272 659.5,272.5 659.5,282 657,283 655.8,280"/>
<polygon fill="#ecad3e" points="656.5,263.5 659,263.5 659.2,268.5 657,269"/>
<polygon fill="#e5782e" stroke="#fff" stroke-opacity="0.5" stroke-width="1.00" points="679.4,203.1 686.2,200 695,198.8 703.8,199.4 710.6,201.2 712.5,207.5 713.1,213.8 711.2,220 708.8,225 703.8,225 697.5,223.8 691.2,221.2 685,219.4 679.4,215 678.1,208.8"/>
<polygon fill="#e4722d" stroke="#fff" stroke-opacity="0.5" stroke-width="1.00" points="673.1,222.5 678.1,220 685,219.4 691.2,221.2 695,223.8 692.5,226.2 686.9,228.8 680,229.4 676.2,227.5"/>
<polygon fill="#e4642b" stroke="#fff" stroke-opacity="0.5" stroke-width="1.00" points="686.9,231.2 692.5,226.9 697.5,224.4 703.8,225 708.8,225 707.5,228.8 702.5,230.6 696.2,231.2 691.2,232.5"/>
<polygon fill="#e4682c" stroke="#fff" stroke-opacity="0.5" stroke-width="1.00" points="687.5,235 691.2,232.5 696.2,231.2 702.5,230.6 707.5,229.4 710,232.5 706.2,237.5 701.2,240.6 695,241.9 690,241.2 686.9,239.4"/>
<polygon fill="#e4672c" stroke="#fff" stroke-opacity="0.5" stroke-width="1.00" points="704,241 708,236 713,234 720,233 726,234 730,237 733,241 735,246 734,250 730,255 725,255.5 718,256.5 712,257 710,257 707,253 705,249 702,246 700,244"/>
<polygon fill="#e0432b" stroke="#fff" stroke-opacity="0.5" stroke-width="1.00" points="730,233 733.5,235 736.5,240 737.5,244 735,246 733,241 730,237"/>
<polygon fill="#e4672c" stroke="#fff" stroke-opacity="0.5" stroke-width="1.00" points="710,257.5 718,256.8 725,255.8 730,255.5 731.5,258 730,262 728,265.5 724,267.5 719,268 714,267 711,264.5 710,261"/>
<polygon fill="#e5672c" stroke="#fff" stroke-opacity="0.5" stroke-width="1.00" points="673,247 678,245 684,244 688,245 692,246 697,247 696,249.5 690,249 686,250 684,251.5 687,256 691,260 694,263 692,263.5 688,260 684,256 680,252 676,250"/>
<polygon fill="#ecad3e" stroke="#fff" stroke-opacity="0.5" stroke-width="1.00" points="673.5,246.8 678,245 683,244.2 683.2,246.5 680,248 676,248.5"/>
<polygon fill="#dd3f2a" stroke="#fff" stroke-opacity="0.5" stroke-width="1.00" points="684.5,251.5 687,250 691,249.5 696,250 697.5,254 697,258 694.5,261 692,260 688,256"/>
<polygon fill="#dc3e2a" stroke="#fff" stroke-opacity="0.5" stroke-width="1.00" points="697.5,247 702,246 705,249 707,253 710,257 710,261 708,264 704,264 701,262 699,259 698,254 697,250"/>
<polygon fill="#e4642b" stroke="#fff" stroke-opacity="0.5" stroke-width="1.00" points="694.5,261 697,258.5 699,259.2 701,262 700,263.7 697,264.2"/>
<polygon fill="#e0432b" stroke="#fff" stroke-opacity="0.5" stroke-width="1.00" points="699,264 701,263 703.5,267.5 704,272 702,275.2 700,273 699.5,269"/>
<polygon fill="#e0602c" stroke="#fff" stroke-opacity="0.5" stroke-width="1.00" points="704,264.5 708,264 711,264.8 712,268 709,270 705,270 703.5,267.5"/>
<polygon fill="#e5772d" stroke="#fff" stroke-opacity="0.5" stroke-width="1.00" points="702,275.5 704.5,272 705,270 709,270 712,268 714,267.2 719,268.2 724,267.8 726,269.5 723,271 719,270.5 716,272 714,274 713.5,278 715,282 717,286 715,287 713.5,290 714.5,293 712,294 710,291 709,287 706.5,283 704,279"/>
<polygon fill="#e5772d" points="717,301.5 722,302 727,303 726.8,304.5 721,304.2 717.2,303.2"/>
<circle cx="685" cy="305.5" r="2.8" fill="#e4782f" stroke="#fff" stroke-opacity="0.6" stroke-width="0.8"/>
<polygon fill="#e98e2f" points="753,303 758,301.5 760.5,302 757,304.5 753.5,305"/>
<polygon fill="#e4642b" stroke="#fff" stroke-opacity="0.5" stroke-width="1.40" points="948.7,220.1 953,226.6 959.5,232 966,238.5 974.7,240.7 985.5,245 994.2,250.4 1005,252.6 1018,255.8 1028.8,256.9 1035.3,253.7 1044,249.3 1046.2,245 1048.3,238.5 1054.8,234.2 1063.5,229.8 1070,224.4 1061.3,220.1 1050.5,216.8 1050.5,208.2 1051.6,197.3 1052.7,189.8 1058.1,186.5 1065.7,188.7 1074.3,195.2 1083,201.7 1091.7,206 1102.5,211.4 1113.3,213.6 1118.8,212.5 1121.1,220.1 1123.7,228.3 1122,236.8 1121.6,247.2 1117.2,253.7 1112.7,258.9 1106.8,261.9 1102.5,263.4 1098.2,262.3 1096,258 1091.7,264.5 1087.3,268.8 1089.5,271 1094.9,273.2 1098.2,276.4 1104.7,279.7 1107.9,276.4 1104.7,281.8 1101.4,288.3 1104.7,294.8 1111.2,301.3 1117.7,307.8 1119.8,314.3 1123.1,320.8 1124.2,329.5 1122,338.2 1119.8,346.8 1113.3,355.5 1106.8,362 1100.3,366.3 1091.7,370.7 1087.3,373.9 1080,362 1072,360.7 1064,363.3 1056,364.7 1050.7,372.7 1046.7,364.7 1040,359.3 1033.3,348.7 1029.3,338 1025.3,335.3 1018.7,340.7 1008,343.3 1001.3,346 1005,339.2 992,340.3 983.3,339.2 970.3,332.8 957.3,328.4 956.7,321.9 948,315.4 939.3,310 930.7,301.3 922,292.7 913.3,286.2 911.2,275.3 915.5,268.8 924.2,265.6 929.6,259.1 930.7,256.9 928.5,251.5 930.7,242.8 937.2,232 941.5,226.6 944.8,220.1"/>
<polygon fill="#e4642b" stroke="#fff" stroke-opacity="0.5" stroke-width="1.40" points="923.1,287.2 928.5,288.3 935,298.1 943.7,307.8 950.2,312.2 956.7,318.7 949.8,318.7 970.3,330.6 983.3,337.1 992,338.2 1005,337.1 1011.5,331.7 1020.2,329.5 1026.7,333.8 1025.3,335.3 1028,342 1021.3,348.7 1017.3,356.7 1013.3,367.3 1010.7,368.7 1008,364.7 1005.3,369.2 1000,367.9 994.7,371.3 992,378 986.7,386 978.7,394 970.7,402 965.3,410 966.7,420.7 966.7,431.3 965.3,440.7 958.7,447.3 953.3,439.3 948,426 942.7,412.7 937.3,399.3 933.3,386 929.3,372.7 926.7,376.7 920,375.3 914.7,367.3 910.7,360.7 911.2,346.8 915.5,340.3 919.8,331.7 924.2,323 928.5,314.3 926.3,305.7 932.8,301.3 930.7,294.8"/>
<polygon fill="#e0472b" stroke="#fff" stroke-opacity="0.5" stroke-width="1.40" points="948.7,220.1 959.5,212.5 970.3,210.3 980.1,211.4 982.2,202.8 989.8,202.8 998.5,208.2 1011.5,210.3 1024.5,212.5 1033.2,213.6 1041.8,209.2 1050.5,208.2 1050.5,216.8 1061.3,220.1 1070,224.4 1063.5,229.8 1054.8,234.2 1048.3,238.5 1046.2,245 1044,249.3 1035.3,253.7 1028.8,256.9 1018,255.8 1005,252.6 994.2,250.4 985.5,245 974.7,240.7 966,238.5 959.5,232 953,226.6"/>
<polygon fill="#e0452b" stroke="#fff" stroke-opacity="0.5" stroke-width="1.40" points="799.6,222.2 805,216.8 811.5,212.5 822.3,212.5 833.2,213.6 841.8,212.5 848.3,210.3 846.2,201.7 850.5,197.3 859.2,194.1 870,189.8 878.7,191.9 887.3,196.2 896,195.2 902.5,198.4 911.2,203.8 919.8,210.3 928.5,212.5 937.2,215.8 945.8,220.1 943.7,226.6 939.3,232 932.8,242.8 930.7,251.5 932.8,256.9 926.3,263.4 913.3,266.7 900.3,268.8 891.7,273.2 878.7,275.3 865.7,271 852.7,262.3 844,265.6 835.3,267.8 831,262.3 826.7,251.5 824.5,242.8 818,237.4 811.5,238.5 805,236.3 801.8,229.8"/>
<polygon fill="#d63a2b" stroke="#fff" stroke-opacity="0.5" stroke-width="1.40" points="798.5,281.8 805,275.3 811.5,277.5 816.9,281.8 819.1,287.2 825.6,291.6 833.2,292.7 838.6,288.3 839.7,288.3 844,281.8 852.7,281.8 861.3,284 870,288.3 878.7,297 878.7,310 878.7,323 880.8,331.7 885.2,340.3 884,342 885.3,346 881.3,348.7 880,353.3 873.3,354 866.7,353.3 861.3,351.3 860,347.3 856,345.3 852,347.3 846.7,346.7 841.3,344.7 836,342 832.7,338 829.3,332.7 825.3,328.7 820.7,330 820,328 817.3,320.7 813.3,314 808,306 805.3,298 801.3,290 798.5,288.3"/>
<polygon fill="#dc3e2a" stroke="#fff" stroke-opacity="0.5" stroke-width="1.40" points="875.4,329.5 880.8,323 889.5,318.7 896,310 902.5,303.5 909,294.8 913.3,286.2 923.1,286.2 930.7,294.8 932.8,301.3 926.3,305.7 928.5,314.3 924.2,323 919.8,331.7 920,336.7 914.7,339.3 912,343.3 913.3,348.7 916,352.7 913.3,356.7 912,362 906.7,359.3 904,355.3 900,352.7 893.3,352.7 886.7,353.3 880,353.3 881.3,348.7 885.3,346 884,342 880,336.7 876,331.3"/>
<polygon fill="#d0372d" stroke="#fff" stroke-opacity="0.5" stroke-width="1.40" points="872.2,297 875.4,292.7 879.8,286.2 885.2,280.8 891.7,277.5 900.3,281.8 909,280.8 919.8,281.8 923.1,287.2 913.3,290.5 911.2,299.2 909,307.8 902.5,312.2 898.2,318.7 891.7,327.3 883,329.5 875.4,329.5 872.2,323 873.2,314.3 870,305.7"/>
<polygon fill="#d9392b" stroke="#fff" stroke-opacity="0.5" stroke-width="1.40" points="838.6,251.5 840.8,245 848.3,246.1 857,249.3 865.7,252.6 874.3,254.8 883,261.2 889.5,265.6 896,266.7 900.3,262.3 906.8,261.2 904.7,266.7 898.2,269.9 892.8,275.3 889.5,281.8 885.2,284 878.7,279.7 870,275.3 863.5,268.8 857,264.5 852.7,261.2 847.2,263.4 841.8,265.6 840.8,259.1"/>
<polygon fill="#a5281e" stroke="#fff" stroke-opacity="0.5" stroke-width="1.40" points="833.2,273.2 836.4,268.8 841.8,266.7 847.2,263.4 852.7,261.2 857,264.5 863.5,268.8 870,275.3 878.7,279.7 885.2,284 880.8,290.5 876.5,297 872.2,295.9 865.7,291.6 858.1,287.2 850.5,284 844,285.1 839.7,288.3 836.4,281.8"/>
<polygon fill="#d5372b" stroke="#fff" stroke-opacity="0.5" stroke-width="1.40" points="900.3,261.2 904.7,258 913.3,255.8 924.2,256.9 931.8,258 926.3,263.4 917.7,266.7 911.2,268.8 904.7,267.8 906.8,263.4"/>
<polygon fill="#d0372d" stroke="#fff" stroke-opacity="0.5" stroke-width="1.40" points="892.8,275.3 898.2,271 904.7,268.8 911.2,269.9 915.5,275.3 919.8,281.8 913.3,284 906.8,281.8 900.3,286.2 896,284 893.8,279.7"/>
<polygon fill="#df432b" stroke="#fff" stroke-opacity="0.5" stroke-width="1.40" points="794.2,268.8 800.7,275.3 798.5,281.8 798.5,288.3 792,292.7 785.5,294.8 774.7,295.9 768.2,299.2 756,295 752,297 748,295 744,294 740,296 736,294 733,290 731,286 730,282 728,277 732,274 738,272 744,270 750,268 756,267 772,270 782,271 790,270"/>
<polygon fill="#df432b" points="727,269 730,266 733,268 732,272 728,273"/>
<polygon fill="#e98e2f" stroke="#fff" stroke-opacity="0.5" stroke-width="1.40" points="783.3,259.1 789.8,260.2 796.3,263.4 803.9,266.7 802.8,269.3 795.2,269.3 788.8,266.7"/>
<polygon fill="#e0432b" stroke="#fff" stroke-opacity="0.5" stroke-width="1.40" points="795.2,269.3 799.6,268.8 802.8,275.3 799.6,276.9 796.8,273.2"/>
<polygon fill="#d5372b" stroke="#fff" stroke-opacity="0.5" stroke-width="1.40" points="799.6,268.8 802.8,268.8 809.3,266.2 814.8,271 816.9,278.6 816.9,281.8 811.5,277.5 805,275.3 802.8,275.3"/>
<polygon fill="#d0372d" stroke="#fff" stroke-opacity="0.5" stroke-width="1.40" points="788.7,293.3 794.7,291.3 801.3,290 805.3,298 808,306 813.3,314 817.3,320.7 820,328 816,330 816.7,333.3 808,334 801.3,330 794.7,325.3 788,321.3 782.7,320 781.3,316 780,312.7 785.3,307.3 787.3,300.7"/>
<polygon fill="#9f261c" stroke="#fff" stroke-opacity="0.5" stroke-width="1.40" points="766.7,298 773.3,295.3 781.3,294 788.7,293.3 787.3,300.7 785.3,307.3 780,312.7 773.3,316 770,316.7 768,311.3 767.3,304.7"/>
<polygon fill="#d0372d" stroke="#fff" stroke-opacity="0.5" stroke-width="1.40" points="765.3,307.3 767.7,306.7 767.7,312 765.3,313.3"/>
<polygon fill="#e8a03a" stroke="#fff" stroke-opacity="0.5" stroke-width="1.40" points="764,315.3 766.7,314.7 767.3,324.7 766,330 764.7,324.7"/>
<polygon fill="#e4772d" stroke="#fff" stroke-opacity="0.5" stroke-width="1.40" points="768,319.3 770,316.7 777.3,318.7 781.3,316 782.7,320 777.3,323.3 773.3,330 768,335.3 766,330 767.3,324.7"/>
<polygon fill="#e4772d" stroke="#fff" stroke-opacity="0.5" stroke-width="1.40" points="768,335.3 773.3,330 777.3,323.3 782.7,320 788,321.3 794.7,325.3 801.3,330 808,334 816,334.7 819.3,331.3 820.7,330 821.3,334 824,339.3 828,344.7 832,348.7 832.7,355.3 834.7,358 837.3,358 840,361.3 845.3,362.7 852,368.7 856,372.7 855.3,380.7 852,385.3 845.3,388.7 838.7,391.3 832,392.7 826.7,395.3 822.7,398.7 818.7,399.3 813.3,398 805.3,398 802.7,396.7 800,392.7 796,386 792,380.7 788,375.3 786.7,370 784,364.7 780,358 776,351.3 772,344.7 769.3,339.3"/>
<polygon fill="#a0261c" stroke="#fff" stroke-opacity="0.5" stroke-width="1.40" points="805.3,398.7 813.3,398.3 818.7,399.6 822.7,398.9 826.7,395.6 832,392.9 838.7,391.6 842.7,392.7 845.3,396.7 847.3,402 842.7,407.3 840,410 834.7,412 824,414 813.3,414.7 806,413.3 804.7,406"/>
<polygon fill="#e4702d" stroke="#fff" stroke-opacity="0.5" stroke-width="1.40" points="852,368.7 856,366.7 858,362 859.3,358 862.7,362 868,364.7 872.7,368.7 873.3,372.7 870.7,376.7 869.3,382 866.7,387.3 864,391.3 858.7,395.3 853.3,398 849.3,400 847.3,402 845.3,396.7 842.7,392.7 845.3,388.7 852,385.3 855.3,380.7 856,372.7"/>
<polygon fill="#e8a03a" stroke="#fff" stroke-opacity="0.5" stroke-width="1.40" points="840,361.3 845.3,362.7 850.7,361.3 853.3,356.7 856,353.3 858,352 858,362 856,366.7 852,368.7 845.3,363.1"/>
<polygon fill="#e98e2f" points="832.7,348.7 836.7,349.3 837.3,355.3 834.7,358 832.7,355.3"/>
<polygon fill="#e4642b" stroke="#fff" stroke-opacity="0.5" stroke-width="1.40" points="816,330 819.3,328.7 820.7,330 819.3,332.7 816.7,333.3"/>
<polygon fill="#e0432b" points="760,323.3 765.3,322 766,330 764,334.3 761.3,330 760,328.7"/>
<polygon fill="#dc3e2a" stroke="#fff" stroke-opacity="0.5" stroke-width="1.40" points="954.1,327.3 959.5,325.2 970.3,329.5 983.3,336 989.8,338.2 988.8,343.6 979,342.5 968.2,338.2 959.5,334.9"/>
<polygon fill="#eba63a" stroke="#fff" stroke-opacity="0.5" stroke-width="1.40" points="992,337.1 998.5,334.9 1005,337.1 1003.9,342.5 995.2,343.6"/>
<polygon fill="#d0372d" stroke="#fff" stroke-opacity="0.5" stroke-width="1.40" points="993.3,350 1000,351.3 1005.3,356.7 1008,364.7 1005.3,369.2 1000,367.9 996,360.7"/>
<polygon fill="#dd422b" points="969.3,440.7 973.3,442 977.3,450 976,458 972,460.1 969.3,454 968,446"/>
<polyline fill="none" stroke="#e26a58" stroke-width="1.8" points="937.1,435.3 937.3,438.5"/>
<polyline fill="none" stroke="#e26a58" stroke-width="1.8" points="937.5,441.2 937.7,444.4"/>
<polyline fill="none" stroke="#e26a58" stroke-width="1.8" points="937.9,447.1 938.2,450.3"/>
<polyline fill="none" stroke="#e26a58" stroke-width="1.8" points="938.3,452.9 938.6,456.1"/>
<polyline fill="none" stroke="#e26a58" stroke-width="1.8" points="938.7,458.8 939,462"/>
<polyline fill="none" stroke="#e26a58" stroke-width="1.8" points="939.1,464.7 939.4,467.9"/>
<polyline fill="none" stroke="#e26a58" stroke-width="1.8" points="939.5,470.5 939.8,473.7"/>
<polyline fill="none" stroke="#e26a58" stroke-width="1.8" points="939.9,476.4 940.2,479.6"/>
<polyline fill="none" stroke="#e26a58" stroke-width="1.8" points="940.4,482.3 940.6,485.5"/>
<polyline fill="none" stroke="#e26a58" stroke-width="1.8" points="940.8,488.1 941,491.3"/>
<polyline fill="none" stroke="#e26a58" stroke-width="1.8" points="941.2,494 941.4,497.2"/>
<polyline fill="none" stroke="#efb0a6" stroke-width="1.4" points="1024,418 1024.3,420.9"/>
<polyline fill="none" stroke="#efb0a6" stroke-width="1.4" points="1024,423.9 1024.3,426.8"/>
<polyline fill="none" stroke="#efb0a6" stroke-width="1.4" points="1024,429.7 1024.3,432.7"/>
<polyline fill="none" stroke="#efb0a6" stroke-width="1.4" points="1024,435.6 1024.3,438.5"/>
<polygon fill="#dc3a2b" stroke="#fff" stroke-opacity="0.5" stroke-width="1.40" points="1027,334 1030,336 1033,342 1032.5,350 1036,356 1040,360 1043,366 1046,370 1049,372 1048.5,376 1044,379 1040,382 1039,388 1041,394 1040,400 1041.5,400 1043,406 1046.2,413 1049.2,420 1050.2,428 1048.5,429 1046.5,422 1043.5,414 1040.5,407 1038.5,401 1036,402.5 1033,403.2 1029,402 1027,397 1025,390 1023,384 1019,378 1016,373 1015,366 1017,360 1019,354 1019.5,347 1021,341 1024,338"/>
<polygon fill="#e0452b" stroke="#fff" stroke-opacity="0.5" stroke-width="1.40" points="1048.5,376 1052,378 1054,382 1055,388 1055.5,393 1059,391 1063,389 1067,391 1070,395 1074,402 1076,409 1074,411 1069,411 1065.5,413 1065,420 1063,422.2 1060,420 1057,417.2 1054.2,418.2 1053.7,426 1053.7,434 1054.7,441 1057.7,447 1061.2,452 1064.2,456 1066.5,459 1063,458 1060,460 1058,457 1055,453 1052,449 1049.5,444 1050.5,436 1050.2,428 1049.2,420 1046.2,413 1043,406 1041.5,400 1040,400 1041,394 1039,388 1040,382 1044,379"/>
<polygon fill="#e04a2b" stroke="#fff" stroke-opacity="0.5" stroke-width="1.40" points="1049,372 1052,367 1055,368 1058,370 1061,372 1064,375 1067.5,377 1068,381 1066,384 1069,387 1073,391 1077,396 1082,403 1085,410 1082,410 1079,411 1076,409 1074,402 1070,395 1067,391 1063,389 1059,391 1055.5,393 1055,388 1054,382 1052,378 1048.5,376"/>
<polygon fill="#e4602b" stroke="#fff" stroke-opacity="0.5" stroke-width="1.40" points="1052,367 1055,364 1060,362 1066,361 1071,362 1074,366 1078,369.5 1075,373 1073,377 1073,382 1075,386 1079,391 1084,398 1089,404 1092,409 1094.5,415 1095,422 1093.5,428 1090,432 1086,434 1084,438 1080,442 1078,443.2 1077.5,438 1078,434 1077,432 1080,429 1082,425 1086,422 1086.5,417 1085,412 1084,410.5 1085,410 1082,403 1077,396 1073,391 1069,387 1066,384 1068,381 1067.5,377 1064,375 1061,372 1058,370 1055,368"/>
<polygon fill="#d0372d" stroke="#fff" stroke-opacity="0.5" stroke-width="1.40" points="1064,416 1067,412 1072,411 1078,411.5 1082,410 1085,412 1086.5,417 1086,422 1082,425 1080,429 1077,432 1073,431 1070,427 1067,423 1065,420"/>
<polygon fill="#e5702d" stroke="#fff" stroke-opacity="0.5" stroke-width="1.40" points="1060,460 1063,458 1066.5,459 1070,463 1072,468 1072.5,474 1074,480 1076,483 1074,484.5 1070,481 1066.5,477 1064,472 1062,466"/>
<circle cx="1076.5" cy="485.5" r="2.6" fill="#e8c93a" stroke="#fff" stroke-opacity="0.6" stroke-width="0.8"/>
<polygon fill="#df432b" points="1037,463 1040,462 1045,465 1049,469 1053,474 1057,478 1061,482 1065,486 1068,490 1072,495.3 1080,506 1084.8,516.7 1083.2,525.2 1077.3,523.9 1068,515.3 1059.2,504.7 1050.7,493.2 1042,472 1039,467"/>
<polygon fill="#df432b" points="1083.2,527.9 1093.3,528.9 1106.7,532.7 1120,536.9 1126.4,541.5 1124,544.4 1116.8,544.9 1103.5,542.5 1090.1,538.5 1083.2,534.8"/>
<polygon fill="#df432b" points="1128,542 1138.7,543.3 1149.3,544.7 1160,543.3 1170.7,542 1172,546 1160,547.3 1146.7,548.1 1133.3,546.5"/>
<polygon fill="#df432b" points="1157.3,551.3 1166.7,547.3 1169.3,548.7 1160,553.5"/>
<circle cx="1171.2" cy="546" r="2.2" fill="#e0702d" stroke="#fff" stroke-opacity="0.6" stroke-width="0.8"/>
<polygon fill="#df432b" points="1100,485 1104,483 1110,483 1116,484.5 1121,482.5 1125,479.5 1128.5,474.5 1130,469.5 1135,468.5 1140,466.5 1139.2,483.3 1140.8,490 1136.5,496.7 1133.9,504.7 1128.5,512.7 1124,516.1 1114.7,513.5 1106.7,512.1 1102.1,503.9 1099.5,495.3"/>
<polygon fill="#e5702d" points="1110,479 1114,476 1118,473 1122,469 1126,466 1128,462 1130,457 1133,454.5 1135,457 1137,460 1140.5,461.2 1140.5,466.2 1135,468.2 1130,469.2 1128,474.2 1125,479.2 1121,482.2 1116,484.2 1112,484.2 1109.5,483"/>
<polygon fill="#df432b" points="1144,490 1149.3,487.3 1160,486 1169.3,483.3 1168,487.3 1160,490 1152,492.7 1154.7,498 1162.7,500.7 1158.7,504.7 1152,503.3 1153.3,514 1157.3,522 1153.3,523.3 1149.3,516.7 1146.7,508.7 1142.7,514 1142.7,503.3 1144,495.3"/>
<polygon fill="#dd422b" points="1138.5,385 1143.8,385.8 1146.8,391 1146,398.5 1147.5,406 1149.8,410.5 1153.5,411.2 1156.5,415 1159.5,416.5 1158,419.5 1153.5,418 1149.8,415 1147.5,418 1145.2,419.5 1143.8,415 1142.2,409 1139.2,404.5 1138.2,397 1137.8,389.5"/>
<polygon fill="#dd422b" points="1161.8,420.2 1165.5,421 1167,425.5 1165.5,430 1163.2,427.8 1161.8,424"/>
<polygon fill="#dd422b" points="1152,424.8 1155.8,425.5 1157.2,430 1155,431.5 1152.8,428.5"/>
<polygon fill="#dd422b" points="1155.8,430 1159.5,431.5 1161.8,436 1158.8,436.8 1156.5,434.5"/>
<polygon fill="#dd422b" points="1143.8,415 1147.5,416.5 1147.5,421 1144.8,420.2"/>
<polygon fill="#dd422b" points="1155,446.5 1159.5,443.5 1163.2,445 1167,439 1171.5,438.2 1173.8,445 1173.8,451.8 1170.8,455.5 1168.5,458.5 1165.5,455.5 1163.2,451 1160.2,448 1157.2,449.5"/>
<polygon fill="#dd422b" points="1132.5,443.5 1135.5,438.2 1138.5,433 1141.5,427 1142.7,427.8 1140,433.8 1137,439.8 1134,444.2"/>
<polygon fill="#df432b" points="1176,511.3 1192,510 1194.7,514 1181.3,515.3"/>
<polygon fill="#df432b" points="1194.7,498 1200,496.7 1200,503.3 1196,502"/>
<polygon fill="#df432b" points="1181.3,479.3 1185.3,482 1184,492.7 1180.8,490"/>
<polygon fill="#e4642b" points="1087,380 1090,378 1095,378.5 1095,382 1092,387 1088.5,387.5 1086.5,384"/>
<polygon fill="#eba033" points="1129.9,347.3 1133.9,348.7 1134.7,358 1132,363.3 1129.3,356.7"/>
<circle cx="1113.5" cy="368.5" r="2.8" fill="#e0902f" stroke="#fff" stroke-opacity="0.6" stroke-width="0.8"/>
<polygon fill="#a32419" stroke="#fff" stroke-opacity="0.5" stroke-width="1.40" points="1111.7,258.3 1116.7,253.3 1120.8,246.7 1124.2,245.8 1125,253.3 1123.3,258.3 1126.7,263.3 1128.3,268.3 1125,270.8 1120,271.3 1116.7,268.3 1114.2,263.3"/>
<polygon fill="#e8932f" stroke="#fff" stroke-opacity="0.5" stroke-width="1.40" points="1125,270.8 1129.2,269.2 1134.2,273.3 1139.2,280 1140.8,285 1137.5,289.2 1132.5,290 1130,285 1126.7,278.3"/>
<polygon fill="#eda838" points="1154.2,225 1158.3,227.5 1163.3,230 1170,231.7 1174.2,234.2 1173.3,238.3 1168.3,241.7 1164.2,243.3 1160.8,240.8 1159.2,235 1157.5,230"/>
<polygon fill="#eda838" points="1165.8,250.8 1171.7,251.7 1175.8,257.5 1178.3,265 1180,273.3 1183.3,278.3 1182.5,283.3 1178.3,286.7 1175,288.3 1173.3,293.3 1170,291.7 1166.7,295 1163.3,291.7 1160,295 1157.5,291.7 1155,295 1152.5,293.3 1150,296.7 1148.3,295 1151.7,288.3 1156.7,284.2 1163.3,282.5 1166.7,278.3 1168.3,273.3 1170,266.7 1169.2,260 1166.7,255"/>
<polygon fill="#eda838" points="1149.2,297.5 1153.3,295.8 1157.5,300 1158.3,308.3 1155,309.2 1151.7,303.3"/>
<polygon fill="#eda838" points="1158.3,295 1164.2,293.3 1163.3,297.5 1159.2,298.7"/>
<polyline fill="none" stroke="#efb0a6" stroke-width="1.2" points="1171.7,230 1176.7,221.7 1181.7,213.3 1183.3,205 1181.7,196.7 1179.7,190"/>
<polygon fill="#edab3b" points="1200,561.7 1191.7,565 1186.7,570 1181.7,578.3 1173.3,576.7 1166.7,581.7 1160,588.3 1155,596.7 1148.3,598.3 1143.3,606.7 1133.3,610 1123.3,615 1113.3,618.3 1105,623.3 1101.7,633.3 1100,645 1098.3,656.7 1096.7,670 1093.3,680 1088.3,688.3 1091.7,693.3 1103.3,695 1115,691.7 1126.7,686.7 1136.7,681.7 1146.7,680 1156.7,681.7 1166.7,686.7 1173.3,693.3 1170,703.3 1176.7,698.3 1181.7,691.7 1180,706.7 1183.3,716.7 1190,723.3 1193.3,733.3 1186.7,740 1181.7,748.3 1191.7,745 1200,740"/>
<polygon fill="#f8f8f8" points="805,249.3 807.2,242.8 813.7,238.5 822.3,237.4 826.7,241.8 823.4,247.2 820.2,253.7 824.5,260.2 831,265.6 835.3,268.8 832.1,273.2 835.3,281.8 838.6,288.3 833.2,292.7 825.6,291.6 819.1,286.2 818,277.5 820.2,273.2 813.7,266.7 809.3,260.2 805,254.8"/>
<polygon fill="#d6d6d6" points="666,64 673,61 680,62 686,60 696,59.5 704,61 702,64 696,65 692,68 698,72 699,74.5 694,74 689,70 685,72 682,78 678,79 674,74 670,70"/>
<polygon fill="#e4705a" points="213,496 215.5,495 216,497.5 213.5,498"/>
<polygon fill="#dcdcdc" points="410.5,779.5 414,779 414.5,781 411,781.5"/>
</g>
<!--LEGEND-START-->
<defs><linearGradient id="lg" x1="0" x2="1" y1="0" y2="0"><stop offset="0%" stop-color="#7b1416"/><stop offset="6%" stop-color="#84151a"/><stop offset="14%" stop-color="#a6181c"/><stop offset="21%" stop-color="#d71e25"/><stop offset="26%" stop-color="#e42526"/><stop offset="31.5%" stop-color="#e8402a"/><stop offset="38%" stop-color="#ec5528"/><stop offset="45%" stop-color="#f16c23"/><stop offset="53%" stop-color="#f5821f"/><stop offset="62%" stop-color="#f8981d"/><stop offset="72%" stop-color="#fbaf18"/><stop offset="81.5%" stop-color="#fdc60f"/><stop offset="91%" stop-color="#ffe800"/><stop offset="96%" stop-color="#fff200"/><stop offset="100%" stop-color="#fff200"/></linearGradient></defs>
<g font-family="'Liberation Sans', sans-serif" filter="url(#soft2)">
<text x="15" y="823.6" font-size="20.5" font-weight="700" fill="#2b2b2d" stroke="#2b2b2d" stroke-width="0.45" textLength="48" lengthAdjust="spacingAndGlyphs">SCORE</text>
<text x="-23.5" y="845" font-size="12" fill="#6a6e78" textLength="26" lengthAdjust="spacingAndGlyphs">Highly</text>
<text x="-25" y="857" font-size="12" fill="#6a6e78" textLength="32" lengthAdjust="spacingAndGlyphs">Corrupt</text>
<rect x="14.4" y="836" width="424.6" height="23.2" fill="url(#lg)"/>
<rect x="148.0" y="836" width="0.8" height="23.2" fill="#ffffff" fill-opacity="0.35"/>
<rect x="277.40000000000003" y="836" width="0.8" height="23.2" fill="#ffffff" fill-opacity="0.35"/>
<polygon points="28,859 34,859 31,863" fill="#811519"/>
<polygon points="71.4,859 77.4,859 74.4,863" fill="#a7181c"/>
<polygon points="114.6,859 120.6,859 117.6,863" fill="#e02326"/>
<polygon points="158,859 164,859 161,863" fill="#ea4a29"/>
<polygon points="201,859 207,859 204,863" fill="#f16b23"/>
<polygon points="243.4,859 249.4,859 246.4,863" fill="#f6861f"/>
<polygon points="286.6,859 292.6,859 289.6,863" fill="#f99e1c"/>
<polygon points="330,859 336,859 333,863" fill="#fcb615"/>
<polygon points="373,859 379,859 376,863" fill="#fed309"/>
<polygon points="415.6,859 421.6,859 418.6,863" fill="#fff000"/>
<text x="22.4" y="883" font-size="12.4" fill="#5a5d66" textLength="15.2" lengthAdjust="spacingAndGlyphs">0-9</text>
<text x="62" y="883" font-size="12.4" fill="#5a5d66" textLength="25.0" lengthAdjust="spacingAndGlyphs">10-19</text>
<text x="106" y="883" font-size="12.4" fill="#5a5d66" textLength="25.0" lengthAdjust="spacingAndGlyphs">20-29</text>
<text x="149" y="883" font-size="12.4" fill="#5a5d66" textLength="24.6" lengthAdjust="spacingAndGlyphs">30-39</text>
<text x="192" y="883" font-size="12.4" fill="#5a5d66" textLength="25.0" lengthAdjust="spacingAndGlyphs">40-49</text>
<text x="235.6" y="883" font-size="12.4" fill="#5a5d66" textLength="24.4" lengthAdjust="spacingAndGlyphs">50-59</text>
<text x="278" y="883" font-size="12.4" fill="#5a5d66" textLength="25.6" lengthAdjust="spacingAndGlyphs">60-69</text>
<text x="322" y="883" font-size="12.4" fill="#5a5d66" textLength="25.0" lengthAdjust="spacingAndGlyphs">70-79</text>
<text x="364" y="883" font-size="12.4" fill="#5a5d66" textLength="24.4" lengthAdjust="spacingAndGlyphs">80-89</text>
<text x="407" y="883" font-size="12.4" fill="#5a5d66" textLength="31.0" lengthAdjust="spacingAndGlyphs">90-100</text>
<text x="444.5" y="844" font-size="12.4" fill="#5a5e68" textLength="19.5" lengthAdjust="spacingAndGlyphs">Very</text>
<text x="444.5" y="857.5" font-size="12.4" fill="#5a5e68" textLength="25.5" lengthAdjust="spacingAndGlyphs">Clean</text>
<rect x="484" y="836" width="34" height="23.2" fill="#e1e1e1"/>
<polygon points="498.5,859 503.5,859 501,862" fill="#e6e6e6"/>
<text x="484" y="883" font-size="12.4" fill="#5a5d66" textLength="34.5" lengthAdjust="spacingAndGlyphs">No Data</text>
<rect x="537" y="836" width="32" height="23" fill="#8f8f92"/>
<polygon points="550,859 556.6,859 553.3,863" fill="#8f8f92"/>
<rect x="545.2" y="847" width="2" height="2" fill="#d9d9da"/>
<rect x="549.8" y="847" width="2" height="2" fill="#d9d9da"/>
<rect x="554.4" y="847" width="2" height="2" fill="#d9d9da"/>
<rect x="559.0" y="847" width="2" height="2" fill="#d9d9da"/>
<text x="533.5" y="883" font-size="12.4" fill="#5a5d66" textLength="38.5" lengthAdjust="spacingAndGlyphs">Disputed</text>
<text x="526" y="895" font-size="12.4" fill="#5a5d66" textLength="54" lengthAdjust="spacingAndGlyphs">Boundaries*</text>
<rect x="588" y="836" width="32" height="23" fill="#8f8f92"/>
<polygon points="600.7,859 607.3,859 604,863" fill="#8f8f92"/>
<rect x="594" y="847" width="7.5" height="2" fill="#d9d9da"/><rect x="606" y="847" width="7.5" height="2" fill="#d9d9da"/>
<text x="587.5" y="883" font-size="12.4" fill="#5a5d66" textLength="33.5" lengthAdjust="spacingAndGlyphs">Lines of</text>
<text x="585.5" y="895" font-size="12.4" fill="#5a5d66" textLength="36.5" lengthAdjust="spacingAndGlyphs">Control*</text>
</g>
<!--LEGEND-END-->
</svg>
</body>
</html>
